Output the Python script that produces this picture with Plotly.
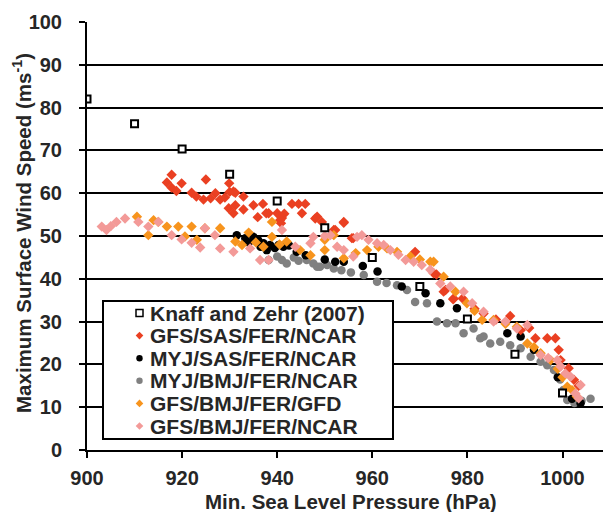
import plotly.graph_objects as go

# ---------------- data ----------------
knaff_p = [900, 910, 920, 930, 940, 950, 960, 970, 980, 990, 1000]
knaff_v = [82, 76.2, 70.3, 64.4, 58.2, 51.9, 45, 38.2, 30.6, 22.4, 13.3]

gfs_sas_p = [916.8, 917.8, 917.8, 919.9, 918.8, 922, 923, 924.5, 925, 926, 927, 928, 929, 929.9,
             930, 930.8, 931.2, 929.8, 930.8, 931.2, 932.9, 932.9, 935, 937, 935.9, 937.7, 938.2,
             940, 940.6, 940.8, 941.5, 941, 943.1, 944.5, 945.9, 945.2, 948, 948.4, 949.4, 951.9,
             954, 954, 952.2, 955.7, 956, 969, 972.9, 973.5, 975, 975.4, 977.1, 977, 979, 981.5,
             983.4, 986, 989, 991.2, 993, 994.3, 996.8, 998.5, 999.2, 999.6, 1001.3, 1002.4, 1003.4]
gfs_sas_v = [62.5, 64.3, 61.3, 62.3, 60.5, 60.1, 59.2, 58.5, 63.2, 58.8, 60, 58.5, 59.0, 62.3,
             60.3, 60.4, 60.1, 56.5, 55.3, 57.2, 59.2, 56.2, 57.2, 57.5, 54.4, 55.3, 55.3,
             55.3, 53.7, 53.0, 55.2, 54.2, 57.5, 57.5, 57.5, 55.3, 54.1, 54.5, 53.3, 51.4,
             53.1, 53.3, 51.4, 49.5, 49.5, 46.3, 41.3, 41, 37, 37.4, 35.4, 35.2, 35.4, 33.0,
             31.9, 30.5, 31.3, 28, 28.5, 26.1, 26.1, 26.1, 23.4, 21, 19.1, 16.4, 15]

myj_sas_p = [931.5, 933.3, 934, 935, 936, 936.5, 937.1, 938.5, 937.8, 939.5, 940.3, 941.3, 942.5,
             944.1, 946, 950, 952.2, 954, 958, 961.1, 966.2, 971.2, 974.3, 977.8, 988.4, 991.2,
             994, 999, 1002, 1003.8]
myj_sas_v = [50.2, 49.5, 48.5, 49.8, 49, 47.5, 48.3, 47.9, 46.7, 47.2, 47.9, 47.5, 47.8,
             46.3, 45.5, 44.5, 44, 44, 43, 41.7, 38.2, 36.6, 34.3, 33.1, 27.3, 26.5,
             23.4, 17, 12, 10.9]

myj_bmj_p = [938.2, 940, 941, 942, 943.5, 944.5, 946.2, 947.6, 948.4, 949, 950.5, 951.9, 953.5,
             955.5, 958.2, 961, 963, 965.2, 967.3, 969, 971.5, 973.6, 975.7, 977.5, 979.2, 981.3,
             982.7, 983.4, 984.8, 986.9, 989, 991.2, 993.3, 995.4, 996.8, 998.2, 999.5, 1000.2,
             1001, 1002.5, 1004, 1005.9]
myj_bmj_v = [44.4, 45.2, 44.4, 43.6, 45.0, 44.2, 44.4, 43.6, 42.8, 42.8, 43.2, 42.4, 42,
             41.5, 40.9, 39.3, 39, 38.5, 37.4, 34.6, 34.3, 30, 29.6, 29.6, 27.3, 28.4,
             26.1, 26.5, 24.9, 25.3, 24.5, 23.8, 21.8, 20.6, 19.8, 18.7, 16.5, 14,
             11.7, 11, 11.5, 12]

gfs_gfd_p = [910.5, 912.9, 914, 915, 916.8, 919.2, 920.6, 922, 923.1, 924.8, 928, 931.2, 932.6,
             934, 935.5, 937.1, 938.9, 938.9, 940.5, 942, 944.8, 947, 950, 950, 951.9, 954,
             956.5, 958.9, 961.3, 963.1, 965.2, 968, 970, 972.2, 972.9, 975, 977.5, 979.9,
             981.5, 983.1, 985.5, 988, 990.4, 992.6, 994, 995.4, 997.5, 999, 1000, 1001, 1002, 1003]
gfs_gfd_v = [54.5, 50.2, 53.7, 53.3, 52.2, 52.2, 49.9, 52.2, 49.1, 51.8, 51.8, 48.7, 47.9,
             50.8, 48.5, 47.5, 53.3, 49.8, 48, 48.7, 46.7, 45.5, 46.7, 49.1, 50.2, 44.8,
             46, 46.7, 47.5, 47.1, 46.3, 45.2, 44.5, 44, 44, 40.5, 37, 34.3,
             32.5, 30.4, 30.4, 29.5, 28.8, 24.9, 24, 22.6, 21, 19, 17, 14.8, 14, 12.5]

gfs_ncar_p = [903.1, 904.1, 905, 906.2, 908, 910.8, 912.9, 915, 917.8, 919.9, 922, 923.8, 924.8,
              926.9, 928, 930.8, 934.3, 936.4, 938.2, 941, 943.8, 947, 947.6, 950, 951.2, 952.6,
              954, 956, 956.8, 957.8, 959.2, 961, 962.4, 963.8, 965.5, 967, 968.7, 970.4, 972.2,
              974.3, 976.4, 979.2, 981, 983.4, 985.5, 988, 990.4, 992.6, 995.4, 997, 998.9,
              999.6, 1000.6, 1001.7, 1003.8, 1002.7, 1003.4]
gfs_ncar_v = [52.2, 51.4, 52.3, 53.3, 54.1, 53.3, 52.2, 53.3, 50.2, 49.2, 48.4, 47.3, 51.8,
              50.2, 47.1, 46.3, 47.1, 44.4, 44.4, 51.4, 47.5, 48.3, 49.8, 50.0, 50.2, 47.5,
              46.7, 45.2, 49.8, 50.2, 49.1, 48.3, 47.9, 46.7, 45.6, 44.4, 44, 43.2, 42.1,
              38.9, 38.2, 37, 34.3, 32.3, 30, 30, 28.4, 29.2, 22.2, 21.5, 21,
              19.5, 17.9, 17.1, 15.2, 13.2, 12.1]

legend_names = ["Knaff and Zehr (2007)", "GFS/SAS/FER/NCAR", "MYJ/SAS/FER/NCAR",
                "MYJ/BMJ/FER/NCAR", "GFS/BMJ/FER/GFD", "GFS/BMJ/FER/NCAR"]
x_ticks = [900, 920, 940, 960, 980, 1000]
y_ticks = [0, 10, 20, 30, 40, 50, 60, 70, 80, 90, 100]
x_title = "Min. Sea Level Pressure (hPa)"
y_title = "Maximum Surface Wind Speed (ms<sup>-1</sup>)"

# ---------------- style ----------------
RED = "#ea4022"
BLACK = "#000000"
GRAY = "#808080"
ORANGE = "#f7941d"
PINK = "#f39a98"
TXT = "#262626"
FONT = "Liberation Sans, Arial, sans-serif"

W, H = 603, 512
ML, MR, MT, MB = 87, 0, 22, 62
PW, PH = W - ML - MR, H - MT - MB

fig = go.Figure()

fig.add_trace(go.Scatter(x=myj_bmj_p, y=myj_bmj_v, mode="markers", name=legend_names[3],
                         marker=dict(symbol="circle", size=8.5, color=GRAY)))
fig.add_trace(go.Scatter(x=myj_sas_p, y=myj_sas_v, mode="markers", name=legend_names[2],
                         marker=dict(symbol="circle", size=8.5, color=BLACK)))
fig.add_trace(go.Scatter(x=gfs_sas_p, y=gfs_sas_v, mode="markers", name=legend_names[1],
                         marker=dict(symbol="diamond", size=8, color=RED)))
fig.add_trace(go.Scatter(x=gfs_gfd_p, y=gfs_gfd_v, mode="markers", name=legend_names[4],
                         marker=dict(symbol="diamond", size=8, color=ORANGE)))
fig.add_trace(go.Scatter(x=gfs_ncar_p, y=gfs_ncar_v, mode="markers", name=legend_names[5],
                         marker=dict(symbol="diamond", size=8, color=PINK)))
fig.add_trace(go.Scatter(x=knaff_p, y=knaff_v, mode="markers", name=legend_names[0],
                         marker=dict(symbol="square", size=7, color="white",
                                     line=dict(color=BLACK, width=2))))

x_max = 900 + PW / 4.755

fig.update_layout(
    width=W, height=H, margin=dict(l=ML, r=MR, t=MT, b=MB),
    paper_bgcolor="white", plot_bgcolor="white", showlegend=False,
    font=dict(family=FONT, color=TXT, size=20, weight="bold"),
    xaxis=dict(range=[900, x_max], tickvals=x_ticks, showgrid=False, zeroline=False,
               showline=True, linecolor=BLACK, linewidth=2,
               ticks="outside", ticklen=6, tickwidth=2, tickcolor=BLACK,
               tickfont=dict(size=20, family=FONT, color=TXT, weight="bold"),
               ticklabelstandoff=3),
    yaxis=dict(range=[0, 100], tickvals=y_ticks, showgrid=True, gridcolor=BLACK, gridwidth=2,
               zeroline=False, showline=True, linecolor=BLACK, linewidth=2,
               ticks="outside", ticklen=6, tickwidth=2, tickcolor=BLACK,
               tickfont=dict(size=20, family=FONT, color=TXT, weight="bold"),
               ticklabelstandoff=13),
)

def px2paper(xp, yp):
    return (xp - ML) / PW, (H - MB - yp) / PH

# axis titles
tx, ty = px2paper(351, 502)
fig.add_annotation(x=tx, y=ty, xref="paper", yref="paper", text=x_title, showarrow=False,
                   xanchor="center", yanchor="middle",
                   font=dict(size=20.5, family=FONT, color=TXT, weight="bold"))
tx, ty = px2paper(22, 233)
fig.add_annotation(x=tx, y=ty, xref="paper", yref="paper", text=y_title, showarrow=False,
                   textangle=-90, xanchor="center", yanchor="middle",
                   font=dict(size=20.5, family=FONT, color=TXT, weight="bold"))

# ---------------- custom legend ----------------
bx0, by0 = px2paper(103, 439)
bx1, by1 = px2paper(393, 301)
fig.add_shape(type="rect", xref="paper", yref="paper", x0=bx0, y0=by0, x1=bx1, y1=by1,
              line=dict(color=BLACK, width=2), fillcolor="white", layer="above")

row_y = [313 + i * 22.6 for i in range(6)]
sym_x = 139.5
colors = [None, RED, BLACK, GRAY, ORANGE, PINK]
for i, name in enumerate(legend_names):
    yc = row_y[i]
    tx, ty = px2paper(148, yc)
    fig.add_annotation(x=tx, y=ty, xref="paper", yref="paper", text=name, showarrow=False,
                       xanchor="left", yanchor="middle",
                       font=dict(size=21, family=FONT, color=TXT, weight="bold"))
    if i == 0:
        x0, y0 = px2paper(sym_x - 3.5, yc + 3.5)
        x1, y1 = px2paper(sym_x + 3.5, yc - 3.5)
        fig.add_shape(type="rect", xref="paper", yref="paper", x0=x0, y0=y0, x1=x1, y1=y1,
                      line=dict(color=BLACK, width=1.5), fillcolor="white", layer="above")
    elif i in (2, 3):
        x0, y0 = px2paper(sym_x - 3.2, yc + 3.2)
        x1, y1 = px2paper(sym_x + 3.2, yc - 3.2)
        fig.add_shape(type="circle", xref="paper", yref="paper", x0=x0, y0=y0, x1=x1, y1=y1,
                      line=dict(width=0), fillcolor=colors[i], layer="above")
    else:
        pts = [px2paper(sym_x, yc - 3.8), px2paper(sym_x + 3.8, yc),
               px2paper(sym_x, yc + 3.8), px2paper(sym_x - 3.8, yc)]
        path = "M " + " L ".join(f"{a},{b}" for a, b in pts) + " Z"
        fig.add_shape(type="path", xref="paper", yref="paper", path=path,
                      line=dict(width=0), fillcolor=colors[i], layer="above")

fig.write_html("out.html")
